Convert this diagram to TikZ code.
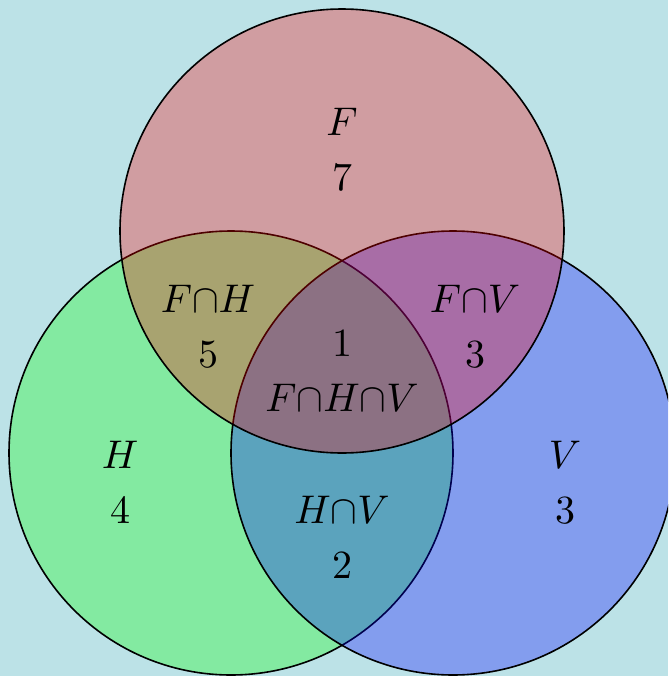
\documentclass[tikz,border=0pt]{standalone}
\definecolor{bgcol}{RGB}{188,226,231}
\begin{document}
\begin{tikzpicture}[x=0.25pt,y=-0.25pt,
  setcirc/.style={circle, draw=black, line width=0.4pt, fill opacity=0.3, inner sep=0pt, minimum size=111pt},
  lab/.style={anchor=base, inner sep=0pt, font=\fontsize{10}{12}\selectfont}]
\fill[bgcol] (0,0) rectangle (668,676);
\useasboundingbox (0,0) rectangle (668,676);
\begin{scope}
\clip (0,0) rectangle (668,676);
\node[setcirc, fill=green] (H) at (231,453) {};
\node[setcirc, fill=blue] (V) at (453,453) {};
\node[setcirc, fill=red] (F) at (342,231) {};
\end{scope}
\node[lab] (tF) at (342,135) {$F$};
\node[lab] (n7) at (342,190) {$7$};
\node[lab] (tFH) at (208,312) {$F{\cap}H$};
\node[lab] (n5) at (208,367) {$5$};
\node[lab] (tFV) at (475,312) {$F{\cap}V$};
\node[lab] (n3a) at (475,367) {$3$};
\node[lab] (n1) at (342,356) {$1$};
\node[lab] (tFHV) at (342,411) {$F{\cap}H{\cap}V$};
\node[lab] (tH) at (120,468) {$H$};
\node[lab] (n4) at (120,523) {$4$};
\node[lab] (tHV) at (342,523) {$H{\cap}V$};
\node[lab] (n2) at (342,578) {$2$};
\node[lab] (tV) at (565,468) {$V$};
\node[lab] (n3b) at (565,523) {$3$};
\end{tikzpicture}
\end{document}
